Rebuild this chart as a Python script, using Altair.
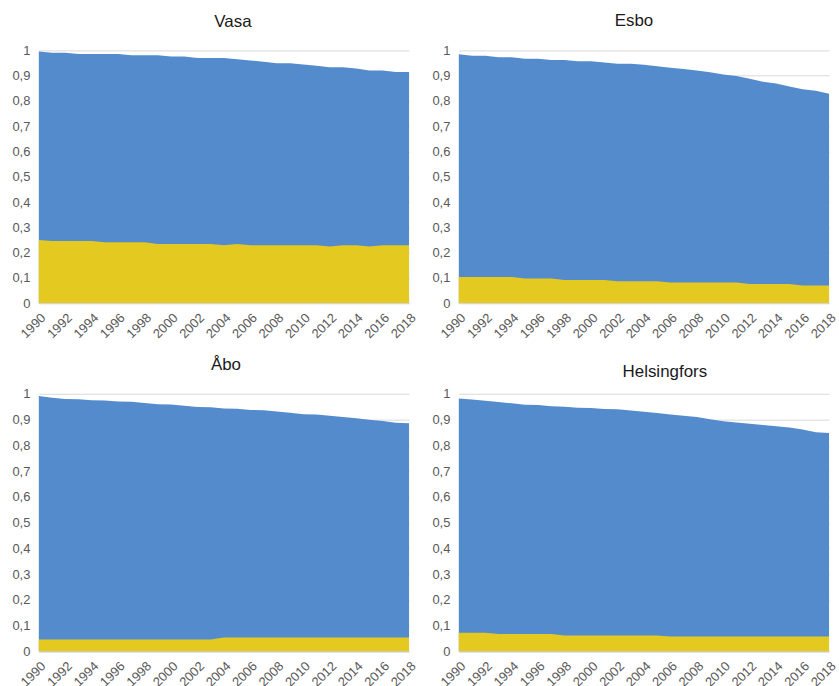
import altair as alt
import pandas as pd

years = [1990, 1991, 1992, 1993, 1994, 1995, 1996, 1997, 1998, 1999,
         2000, 2001, 2002, 2003, 2004, 2005, 2006, 2007, 2008, 2009,
         2010, 2011, 2012, 2013, 2014, 2015, 2016, 2017, 2018]
year_ticks = [1990, 1992, 1994, 1996, 1998, 2000, 2002, 2004, 2006, 2008,
              2010, 2012, 2014, 2016, 2018]
share_ticks = [0, 0.1, 0.2, 0.3, 0.4, 0.5, 0.6, 0.7, 0.8, 0.9, 1]

# Vasa
vasa_top = [0.996, 0.991, 0.991, 0.986, 0.986, 0.986, 0.986, 0.981, 0.981, 0.981,
            0.976, 0.976, 0.970, 0.970, 0.970, 0.965, 0.960, 0.955, 0.949, 0.949,
            0.944, 0.939, 0.933, 0.933, 0.928, 0.921, 0.921, 0.915, 0.915]
vasa_sv = [0.250, 0.246, 0.246, 0.246, 0.246, 0.241, 0.241, 0.241, 0.241, 0.234,
           0.234, 0.234, 0.234, 0.234, 0.229, 0.234, 0.229, 0.229, 0.229, 0.229,
           0.229, 0.229, 0.224, 0.229, 0.229, 0.224, 0.229, 0.229, 0.229]

# Esbo
esbo_top = [0.985, 0.979, 0.979, 0.973, 0.973, 0.967, 0.967, 0.962, 0.962, 0.957,
            0.957, 0.952, 0.947, 0.947, 0.943, 0.937, 0.931, 0.926, 0.921, 0.914,
            0.905, 0.899, 0.888, 0.876, 0.869, 0.857, 0.846, 0.840, 0.829]
esbo_sv = [0.104, 0.104, 0.104, 0.104, 0.104, 0.098, 0.098, 0.098, 0.092, 0.092,
           0.092, 0.092, 0.087, 0.087, 0.087, 0.087, 0.082, 0.082, 0.082, 0.082,
           0.082, 0.082, 0.076, 0.076, 0.076, 0.076, 0.070, 0.070, 0.070]

# Åbo
abo_top = [0.991, 0.985, 0.980, 0.979, 0.975, 0.974, 0.970, 0.969, 0.964, 0.959,
           0.958, 0.954, 0.949, 0.948, 0.943, 0.942, 0.937, 0.936, 0.931, 0.926,
           0.921, 0.920, 0.915, 0.910, 0.905, 0.899, 0.894, 0.888, 0.886]
abo_sv = [0.047, 0.047, 0.047, 0.047, 0.047, 0.047, 0.047, 0.047, 0.047, 0.047,
          0.047, 0.047, 0.047, 0.047, 0.054, 0.054, 0.054, 0.054, 0.054, 0.054,
          0.054, 0.054, 0.054, 0.054, 0.054, 0.054, 0.054, 0.054, 0.054]

# Helsingfors
hfors_top = [0.982, 0.978, 0.973, 0.968, 0.963, 0.957, 0.956, 0.952, 0.950, 0.946,
             0.945, 0.941, 0.940, 0.935, 0.930, 0.925, 0.920, 0.915, 0.910, 0.901,
             0.893, 0.889, 0.884, 0.879, 0.874, 0.869, 0.861, 0.851, 0.848]
hfors_sv = [0.073, 0.073, 0.073, 0.068, 0.068, 0.068, 0.068, 0.068, 0.062, 0.062,
            0.062, 0.062, 0.062, 0.062, 0.062, 0.062, 0.058, 0.058, 0.058, 0.058,
            0.058, 0.058, 0.058, 0.058, 0.058, 0.058, 0.058, 0.058, 0.058]

BLUE = "#538BCC"
YELLOW = "#E3C920"
FONT = "Liberation Sans"
W = 372


def panel(name, top, sv, dx, offset, h):
    df = pd.DataFrame({"year": years, "top": top, "sv": sv})
    x = alt.X(
        "year:Q",
        scale=alt.Scale(domain=[1990, 2018], nice=False, zero=False),
        axis=alt.Axis(
            values=year_ticks, format="d", labelAngle=-45, title=None,
            grid=False, ticks=False, domain=True, domainColor="#D9D9D9",
            labelColor="#595959", labelFont=FONT, labelFontSize=13,
            labelPadding=8, zindex=1, labelOverlap=False, labelFlush=False,
        ),
    )
    yscale = alt.Scale(domain=[0, 1], nice=False)
    yaxis = alt.Axis(
        values=share_ticks, title=None, domain=False, ticks=False,
        grid=True, gridColor="#D9D9D9", labelColor="#595959",
        labelFont=FONT, labelFontSize=13, labelPadding=9,
        labelOverlap=False, labelFlush=False,
        labelExpr="replace(format(datum.value, '.1~f'), '.', ',')",
    )
    base = alt.Chart(df)
    blue = base.mark_area(color=BLUE, opacity=1).encode(
        x=x, y=alt.Y("top:Q", scale=yscale, axis=yaxis)
    )
    yellow = base.mark_area(color=YELLOW, opacity=1).encode(
        x=x, y=alt.Y("sv:Q", scale=yscale, axis=yaxis)
    )
    return alt.layer(blue, yellow).properties(
        width=W, height=h,
        title=alt.TitleParams(
            name, dx=dx, offset=offset, frame="group", anchor="middle",
            font=FONT, fontSize=17, fontWeight="normal", color="#1A1A1A",
        ),
    )


chart = alt.concat(
    panel("Vasa", vasa_top, vasa_sv, 9, 14, 254),
    panel("Esbo", esbo_top, esbo_sv, -10, 15, 254),
    panel("Åbo", abo_top, abo_sv, 2, 14, 259),
    panel("Helsingfors", hfors_top, hfors_sv, 21, 7, 259),
    columns=2, spacing={"row": 91, "column": 50}, bounds="flush",
).properties(
    padding={"left": 11, "top": 10, "right": 0, "bottom": 0},
).configure(background="white").configure_view(stroke=None)

chart.save("out.html", embed_options={"renderer": "svg", "actions": False})
